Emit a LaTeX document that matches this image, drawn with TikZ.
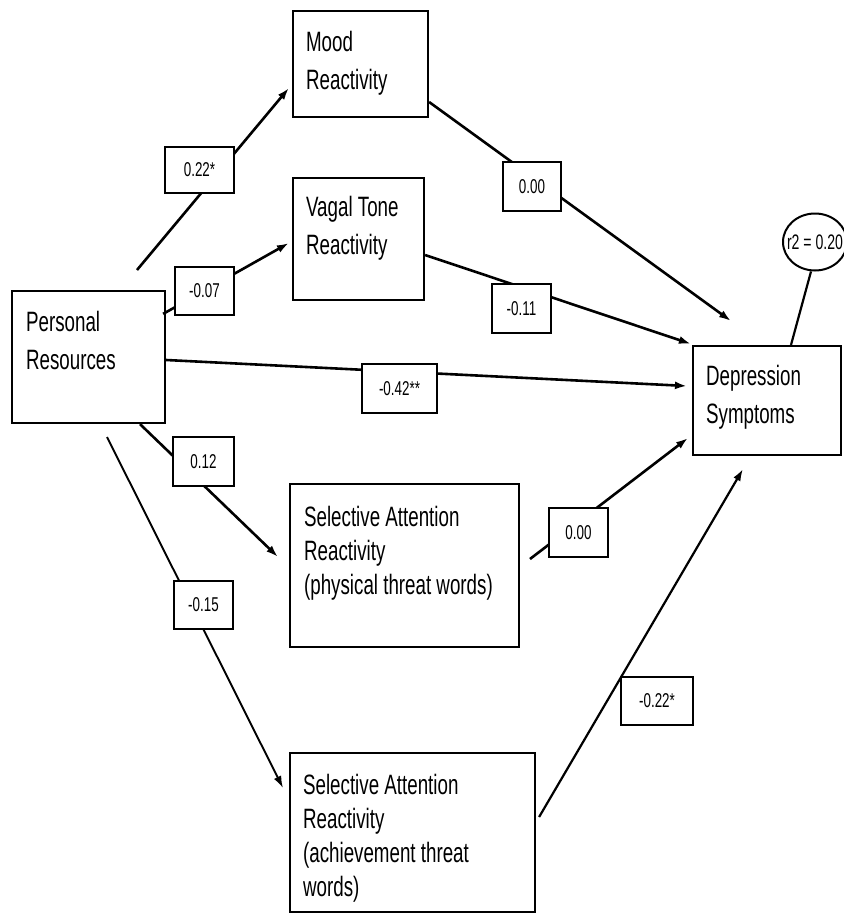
\documentclass[tikz,border=0pt]{standalone}
\usepackage{fontspec}
\setmainfont{Liberation Sans}[FakeStretch=0.67]
\usetikzlibrary{arrows.meta,shapes.geometric}

\begin{document}
\begin{tikzpicture}[x=1pt,y=-1pt,
  box/.style={draw, line width=2.2pt, rectangle, inner sep=0pt},
  boxtext/.style={anchor=north west, align=left, inner sep=0pt,
    font=\fontsize{28}{38}\selectfont},
  bigtext/.style={boxtext, font=\fontsize{28}{34}\selectfont},
  coef/.style={draw, line width=2pt, fill=white, inner sep=0pt,
    minimum width=59pt, minimum height=49pt, font=\fontsize{20}{22}\selectfont},
  effect/.style={line width=2.6pt, -{Latex[length=12pt,width=8pt]}},
  thineffect/.style={effect, line width=1.9pt},
  plainline/.style={line width=2.2pt},
]
\useasboundingbox (0,0) rectangle (843,915);

% variables
\node[box, minimum width=153pt, minimum height=132pt] (pers)  at (88.5,357)   {};
\node[box, minimum width=135pt, minimum height=106pt] (mood)  at (360.5,64)   {};
\node[box, minimum width=131pt, minimum height=122pt] (vagal) at (358.5,239)  {};
\node[box, minimum width=148pt, minimum height=109pt] (dep)   at (767,400.5)  {};
\node[box, minimum width=229pt, minimum height=163pt] (phys)  at (404.5,565.5){};
\node[box, minimum width=245pt, minimum height=159pt] (ach)   at (412.5,832.5){};
\node[draw, ellipse, line width=2pt, inner sep=0pt, minimum width=64pt,
      minimum height=57pt] (r2) at (815,242) {};
\node[inner sep=0pt, font=\fontsize{21}{24}\selectfont] (r2t) at (815,242) {r2 = 0.20};

% variable names
\node[boxtext] (perst)  at ([shift={(15,21)}]pers.north west)  {Personal\\Resources};
\node[boxtext] (moodt)  at ([shift={(14,21)}]mood.north west)  {Mood\\Reactivity};
\node[boxtext] (vagalt) at ([shift={(14,19)}]vagal.north west) {Vagal Tone\\Reactivity};
\node[boxtext] (dept)   at ([shift={(14,20)}]dep.north west)   {Depression\\Symptoms};
\node[bigtext] (physt)  at ([shift={(15,23)}]phys.north west)
  {Selective Attention\\Reactivity\\(physical threat words)};
\node[bigtext] (acht)   at ([shift={(14,22)}]ach.north west)
  {Selective Attention\\Reactivity\\(achievement threat\\words)};

% free path ends
\coordinate (s1) at (137,270);
\coordinate (e3) at (731,321);
\coordinate (e6) at (278,557);
\coordinate (s7) at (107,437);
\coordinate (e7) at (283,788);
\coordinate (s8) at (530,559);
\coordinate (e8) at (688,438);
\coordinate (e9) at (743,469);

% paths
\draw[effect] (s1) -- ([shift={(-3,24)}]mood.west);
\draw[effect] ([shift={(-3,24)}]pers.north east) -- ([shift={(-3,4)}]vagal.west);
\draw[effect] ([shift={(0,38)}]mood.east) -- (e3);
\draw[effect] ([shift={(0,16)}]vagal.east) -- ([shift={(-1,-1)}]dep.north west);
\draw[effect] ([shift={(0,3)}]pers.east) -- ([shift={(-5,-14.5)}]dep.west);
\draw[effect] ([shift={(51.5,0)}]pers.south) -- (e6);
\draw[thineffect] (s7) -- (e7);
\draw[effect] (s8) -- (e8);
\draw[effect, line width=2.2pt] ([shift={(3,-15.5)}]ach.east) -- (e9);
\draw[plainline] ([xshift=-4pt]r2.south) -- ([xshift=24pt]dep.north);

% path coefficients
\node[coef, minimum width=69pt, minimum height=46pt] (c1) at (199.5,170)  {0.22*};
\node[coef, minimum height=48pt]                     (c2) at (204.5,291)  {-0.07};
\node[coef, minimum width=58pt]                      (c3) at (532,186.5)  {0.00};
\node[coef]                                          (c4) at (521.5,308.5){-0.11};
\node[coef, minimum width=75pt]                      (c5) at (399.5,388.5){-0.42**};
\node[coef, minimum width=61pt]                      (c6) at (203.5,461.5){0.12};
\node[coef, minimum height=48pt]                     (c7) at (203.5,605)  {-0.15};
\node[coef]                                          (c8) at (578.5,532.5){0.00};
\node[coef, minimum width=72pt, minimum height=48pt] (c9) at (657,701)    {-0.22*};
\end{tikzpicture}
\end{document}
